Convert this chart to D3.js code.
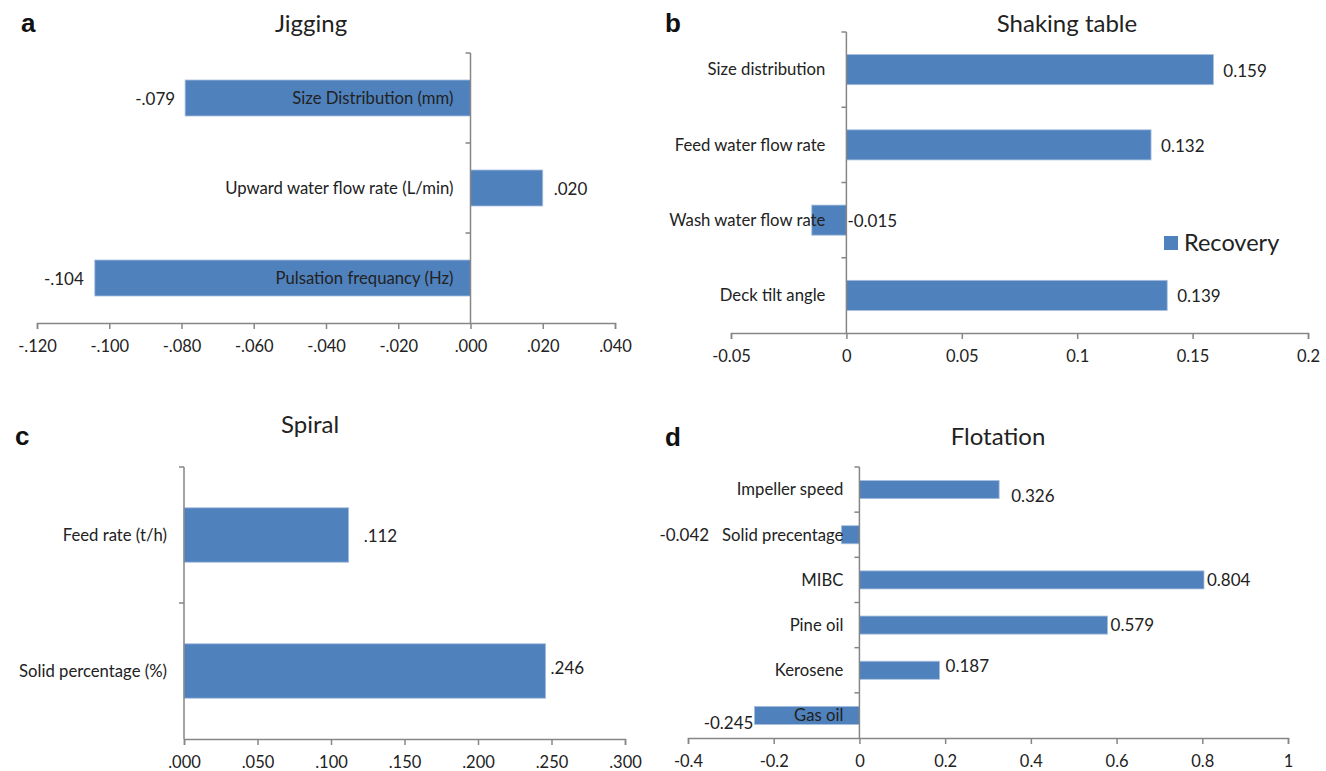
<!DOCTYPE html>
<html>
<head>
<meta charset="utf-8">
<script src="https://cdn.jsdelivr.net/npm/d3@7"></script>
<style>
  body { margin: 0; background: #fff; }
  svg text { font-family: Lato, "Open Sans", sans-serif; fill: #222; }
  .axis path, .axis line { stroke: #868686; stroke-width: 1.5; }
</style>
</head>
<body>
<svg id="chart" width="1326" height="771"></svg>
<script>

// Jigging.
var jigCategories = ["Size Distribution (mm)", "Upward water flow rate (L/min)", "Pulsation frequancy (Hz)"];
var jigValues = [-0.079, 0.020, -0.104];
var jigTicks = [-0.12, -0.10, -0.08, -0.06, -0.04, -0.02, 0, 0.02, 0.04];

// Shaking table.
var shakeCategories = ["Size distribution", "Feed water flow rate", "Wash water flow rate", "Deck tilt angle"];
var shakeValues = [0.159, 0.132, -0.015, 0.139];
var shakeTicks = [-0.05, 0, 0.05, 0.1, 0.15, 0.2];

// Spiral.
var spiralCategories = ["Feed rate (t/h)", "Solid percentage (%)"];
var spiralValues = [0.112, 0.246];
var spiralTicks = [0, 0.05, 0.10, 0.15, 0.20, 0.25, 0.30];

// Flotation.
var flotCategories = ["Impeller speed", "Solid precentage", "MIBC", "Pine oil", "Kerosene", "Gas oil"];
var flotValues = [0.326, -0.042, 0.804, 0.579, 0.187, -0.245];
var flotTicks = [-0.4, -0.2, 0, 0.2, 0.4, 0.6, 0.8, 1];

var svg = d3.select("#chart");
var barColor = "#4f81bd";

// Plain hyphen as minus sign, like Excel.
var locale = d3.formatLocale({decimal: ".", thousands: ",", grouping: [3], currency: ["", ""], minus: "-"});
var fmt3 = locale.format(".3f");
var fmtG = locale.format("~g");

// Excel style ".079" without the leading zero.
function noZero(d) {
  return fmt3(d).replace("0.", ".");
}

function drawPanel(p) {

  var x = d3.scaleLinear()
      .domain([p.ticks[0], p.ticks[p.ticks.length - 1]])
      .range(p.xRange);

  var y = d3.scaleBand()
      .domain(p.categories)
      .range(p.yRange)
      .paddingInner(0.6)
      .paddingOuter(0.3);

  var g = svg.append("g");

  // Bars.
  g.selectAll("rect")
      .data(p.values)
      .enter()
    .append("rect")
      .attr("x", function(d) { return x(Math.min(0, d)); })
      .attr("y", function(d, i) { return y(p.categories[i]); })
      .attr("width", function(d) { return Math.abs(x(d) - x(0)); })
      .attr("height", y.bandwidth())
      .attr("fill", barColor)
      .attr("stroke", "#a7bfde")
      .attr("stroke-width", 0.8);

  // X axis.
  g.append("g")
      .attr("class", "axis")
      .attr("transform", "translate(0," + p.yRange[1] + ")")
      .call(d3.axisBottom(x).tickValues(p.ticks).tickFormat(p.tickFormat).tickSize(6).tickSizeOuter(6))
    .selectAll("text")
      .attr("y", 29)
      .attr("dy", 0)
      .style("font-size", "16.5px");

  // Y axis at zero, ticks between categories.
  var bounds = d3.range(p.categories.length).map(function(i) {
    return p.yRange[0] + i * (p.yRange[1] - p.yRange[0]) / p.categories.length;
  });
  var yAxis = g.append("g").attr("class", "axis");
  yAxis.append("line")
      .attr("x1", x(0)).attr("x2", x(0))
      .attr("y1", p.yRange[0]).attr("y2", p.yRange[1]);
  yAxis.selectAll(".tk")
      .data(bounds)
      .enter()
    .append("line")
      .attr("x1", x(0) - 5).attr("x2", x(0))
      .attr("y1", function(d) { return d; })
      .attr("y2", function(d) { return d; });

  // Category labels.
  g.selectAll(".cat")
      .data(p.categories)
      .enter()
    .append("text")
      .attr("x", x(0) - p.catGap)
      .attr("y", function(d) { return y(d) + y.bandwidth() / 2; })
      .attr("dy", "0.35em")
      .attr("text-anchor", "end")
      .style("font-size", "16.7px")
      .text(function(d) { return d; });

  // Value labels.
  g.selectAll(".val")
      .data(p.values)
      .enter()
    .append("text")
      .attr("x", function(d, i) {
        var n = p.nudge[i];
        return (n.fromZero ? x(0) : x(d)) + n.dx;
      })
      .attr("y", function(d, i) { return y(p.categories[i]) + y.bandwidth() / 2 + p.nudge[i].dy; })
      .attr("dy", "0.35em")
      .attr("text-anchor", function(d, i) { return p.nudge[i].anchor; })
      .style("font-size", "17px")
      .text(function(d) { return p.valueFormat(d); });

  // Title and panel letter.
  g.append("text")
      .attr("x", p.titleX)
      .attr("y", p.titleY)
      .attr("text-anchor", "middle")
      .style("font-size", "24px")
      .text(p.title);

  g.append("text")
      .attr("x", p.letterX)
      .attr("y", p.letterY)
      .style("font-family", "'Liberation Sans', Arial, sans-serif")
      .style("font-weight", "bold")
      .style("font-size", "26px")
      .style("fill", "#111")
      .text(p.letter);

  return {g: g, x: x, y: y};
}

drawPanel({
  categories: jigCategories, values: jigValues, ticks: jigTicks,
  xRange: [37, 615], yRange: [53, 323],
  tickFormat: noZero, valueFormat: noZero, catGap: 17,
  nudge: [
    {dx: -10, dy: 1, anchor: "end"},
    {dx: 11, dy: 1, anchor: "start"},
    {dx: -11, dy: 1, anchor: "end"}
  ],
  title: "Jigging", titleX: 311, titleY: 32,
  letter: "a", letterX: 21, letterY: 32
});

var shake = drawPanel({
  categories: shakeCategories, values: shakeValues, ticks: shakeTicks,
  xRange: [731, 1308], yRange: [32, 333],
  tickFormat: fmtG, valueFormat: fmt3, catGap: 21,
  nudge: [
    {dx: 10, dy: 1, anchor: "start"},
    {dx: 10, dy: 1, anchor: "start"},
    {dx: 1, dy: 1, anchor: "start", fromZero: true},
    {dx: 10, dy: 1, anchor: "start"}
  ],
  title: "Shaking table", titleX: 1067, titleY: 32,
  letter: "b", letterX: 665, letterY: 32
});

// Legend.
var legend = shake.g.append("g")
    .attr("transform", "translate(1164,236)");
legend.append("rect")
    .attr("width", 14)
    .attr("height", 14)
    .attr("fill", barColor);
legend.append("text")
    .attr("x", 20)
    .attr("y", 7)
    .attr("dy", "0.35em")
    .style("font-size", "23.5px")
    .text("Recovery");

drawPanel({
  categories: spiralCategories, values: spiralValues, ticks: spiralTicks,
  xRange: [184, 625], yRange: [467, 739],
  tickFormat: noZero, valueFormat: noZero, catGap: 17,
  nudge: [
    {dx: 15, dy: 1, anchor: "start"},
    {dx: 5, dy: -3, anchor: "start"}
  ],
  title: "Spiral", titleX: 310, titleY: 433,
  letter: "c", letterX: 15, letterY: 445
});

drawPanel({
  categories: flotCategories, values: flotValues, ticks: flotTicks,
  xRange: [688, 1288], yRange: [467, 738],
  tickFormat: fmtG, valueFormat: fmt3, catGap: 16,
  nudge: [
    {dx: 12, dy: 6, anchor: "start"},
    {dx: -182, dy: 0, anchor: "start"},
    {dx: 3, dy: 0, anchor: "start"},
    {dx: 3, dy: 0, anchor: "start"},
    {dx: 6, dy: -4, anchor: "start"},
    {dx: -1, dy: 8, anchor: "end"}
  ],
  title: "Flotation", titleX: 998, titleY: 445,
  letter: "d", letterX: 665, letterY: 446
});

</script>
</body>
</html>
